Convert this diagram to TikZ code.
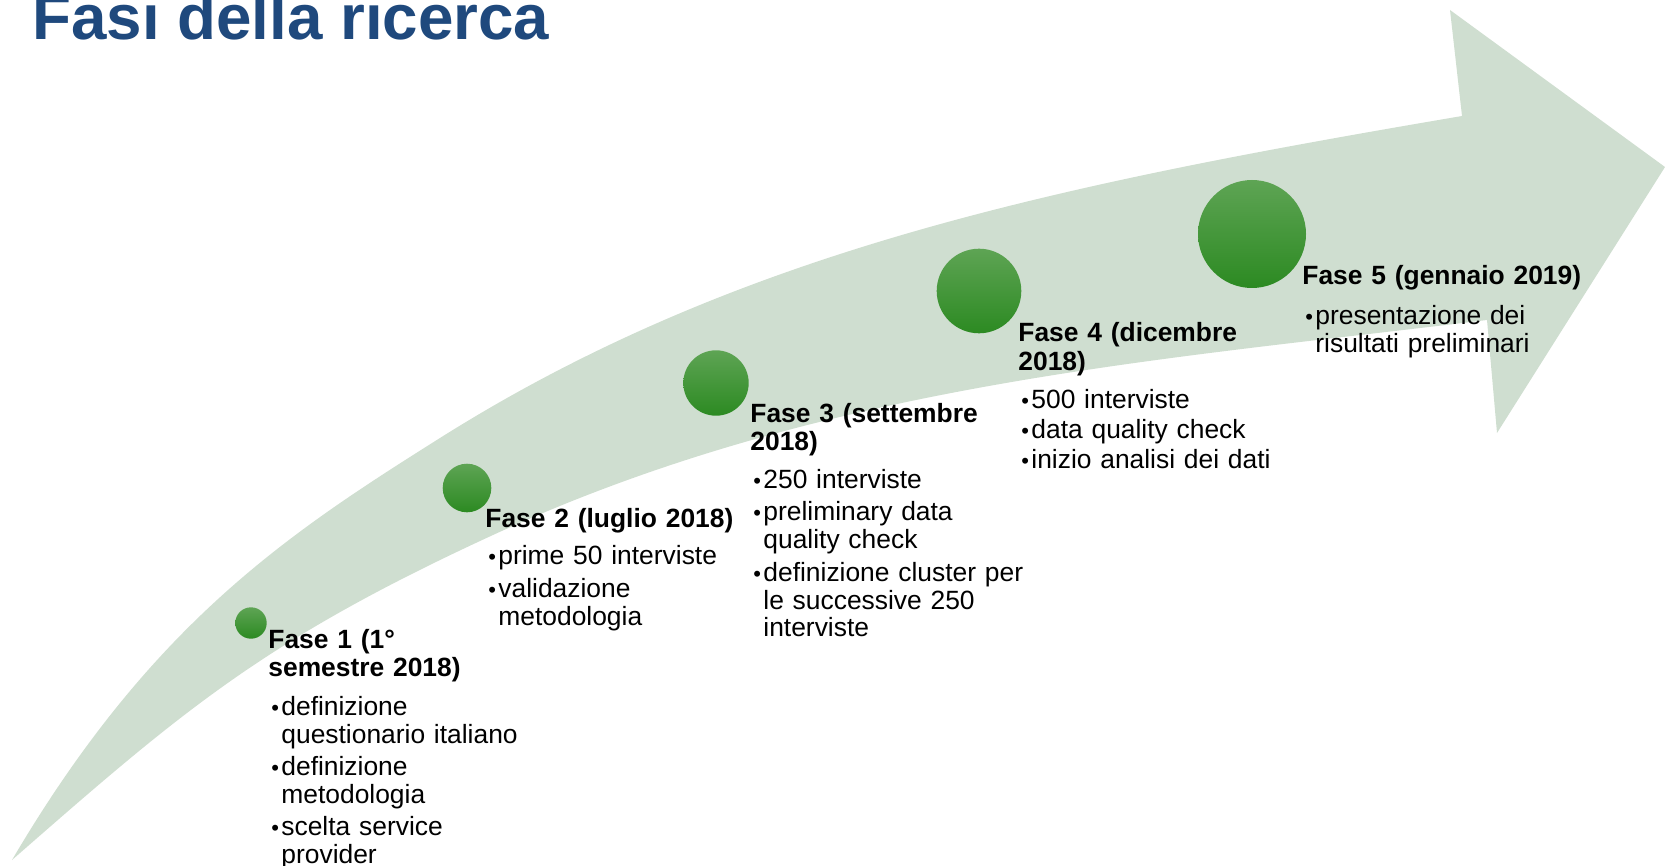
\documentclass[tikz,border=0pt]{standalone}
\usepackage{fontspec}
\setmainfont{Liberation Sans}
\definecolor{band}{RGB}{207,222,208}
\definecolor{titleblue}{RGB}{31,73,125}
\definecolor{gtop}{RGB}{94,164,84}
\definecolor{gbot}{RGB}{44,138,34}
\newcommand\myb[1]{\makebox[6.5pt][l]{\hspace{1.5pt}{\fontsize{11pt}{11pt}\selectfont •}}#1}
\newcommand\myc[1]{\hspace*{6.5pt}#1}
\tikzset{
  dot/.style={circle, inner sep=0pt, shade, top color=gtop, bottom color=gbot, draw=none},
  phase/.style={anchor=base west, inner sep=0pt, text width=170pt, align=left,
    font=\fontsize{13.2pt}{14pt}\selectfont},
}
\begin{document}
\begin{tikzpicture}[x=0.5pt,y=-0.5pt]
\useasboundingbox (0,0) rectangle (1665,866);
% curved arrow
\fill[band] (12,860) .. controls (152,622) and (290,532.5) .. (440,438)
  .. controls (740,249) and (1062,184) .. (1462,116)
  -- (1450,10) -- (1665,167) -- (1497,433) -- (1487,320)
  .. controls (1157,360.6) and (823,383.2) .. (493,535)
  .. controls (263,640.8) and (182,711.25) .. (12,860) -- cycle;
% title
\node[anchor=base west, inner sep=0pt, text=titleblue, font=\fontsize{31.85pt}{34pt}\selectfont\bfseries] (title) at (32,40) {Fasi della ricerca};
% circles
\node[dot, minimum size=15.7pt] (c1) at (251,623) {};
\node[dot, minimum size=24.3pt] (c2) at (467,488) {};
\node[dot, minimum size=32.7pt] (c3) at (716,383) {};
\node[dot, minimum size=42.3pt] (c4) at (979,291) {};
\node[dot, minimum size=54pt] (c5) at (1252,234) {};
% texts
\node[phase] (t1) at (268,648) {\textbf{Fase 1 (1°}\\
\textbf{semestre 2018)}\\[5.5pt]
\myb{definizione}\\
\myc{questionario italiano}\\[2pt]
\myb{definizione}\\
\myc{metodologia}\\[2pt]
\myb{scelta service}\\
\myc{provider}};
\node[phase] (t2) at (485,527) {\textbf{Fase 2 (luglio 2018)}\\[4.5pt]
\myb{prime 50 interviste}\\[2.5pt]
\myb{validazione}\\
\myc{metodologia}};
\node[phase] (t3) at (750,422) {\textbf{Fase 3 (settembre}\\
\textbf{2018)}\\[5pt]
\myb{250 interviste}\\[2pt]
\myb{preliminary data}\\
\myc{quality check}\\[2.5pt]
\myb{definizione cluster per}\\
\myc{le successive 250}\\
\myc{interviste}};
\node[phase] (t4) at (1018,342) {\textbf{Fase 4 (dicembre}\\
\textbf{2018)}\\[5pt]
\myb{500 interviste}\\[1pt]
\myb{data quality check}\\[1pt]
\myb{inizio analisi dei dati}};
\node[phase] (t5) at (1302,285) {\textbf{Fase 5 (gennaio 2019)}\\[6pt]
\myb{presentazione dei}\\
\myc{risultati preliminari}};
\end{tikzpicture}
\end{document}
